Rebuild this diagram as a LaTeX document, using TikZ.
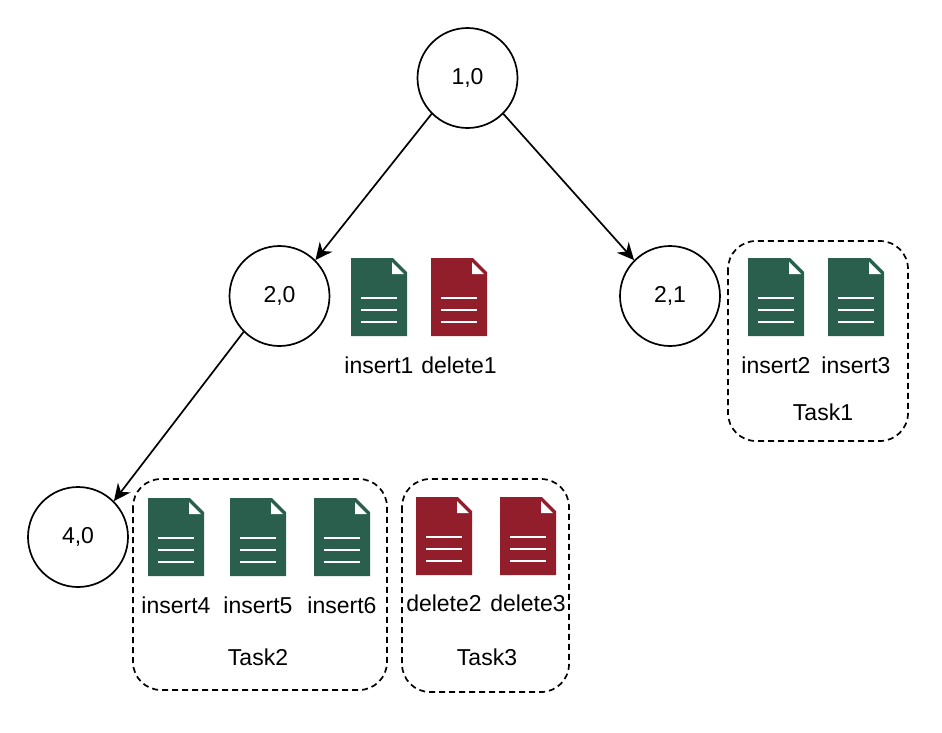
\documentclass[tikz,border=0pt]{standalone}
\usepackage{fontspec}
\setmainfont{Liberation Sans}
\usetikzlibrary{arrows.meta}
\definecolor{insertgreen}{HTML}{2A5F4E}
\definecolor{deletered}{HTML}{921E2B}
\tikzset{
	level/.style={draw, circle, line width=1.7pt, minimum size=100pt, inner sep=0pt, font=\fontsize{23}{27}\selectfont},
	lbl/.style={font=\fontsize{23}{27}\selectfont, inner sep=0pt},
	link/.style={line width=1.7pt, -{Stealth[length=17pt,width=16pt]}},
	taskbox/.style={line width=1.7pt, dash pattern=on 6pt off 4pt, rounded corners=28pt}
}
\def\docicon(#1,#2)#3{
	\fill[#3] (#1,#2) -- ++(42,0) -- ++(14,14) -- ++(0,64) -- ++(-56,0) -- cycle;
	\fill[white] (#1+41,#2+4) -- (#1+53,#2+16) -- (#1+41,#2+16) -- cycle;
	\draw[white, line width=1.1pt] (#1+10,#2+40) -- ++(36,0);
	\draw[white, line width=1.1pt] (#1+10,#2+52) -- ++(36,0);
	\draw[white, line width=1.1pt] (#1+10,#2+64) -- ++(36,0);
}
\begin{document}
\begin{tikzpicture}[x=1pt, y=-1pt]
	\useasboundingbox (0,0) rectangle (942,732);
	
	\node[level] (n10) at (467.5,78) {1,0};
	\node[level] (n20) at (279.5,296) {2,0};
	\node[level] (n21) at (670,296) {2,1};
	\node[level] (n40) at (78,537) {4,0};
	
	\draw[link] (n10.225) -- (n20.45);
	\draw[link] (n10.-45) -- (n21.135);
	\draw[link] (n20.-135) -- (n40.45);
	
	\draw[taskbox] (728,241) rectangle (908,441);
	\draw[taskbox] (133,479) rectangle (387,690);
	\draw[taskbox] (402,479) rectangle (569,692);
	
	\docicon(351,258){insertgreen}
	\docicon(431,258){deletered}
	\docicon(748,258){insertgreen}
	\docicon(828,258){insertgreen}
	\docicon(148,498){insertgreen}
	\docicon(230,498){insertgreen}
	\docicon(314,498){insertgreen}
	\docicon(416,497){deletered}
	\docicon(500,497){deletered}
	
	\node[lbl] (insert1) at (379,365) {insert1};
	\node[lbl] (delete1) at (459,365) {delete1};
	\node[lbl] (insert2) at (776,365) {insert2};
	\node[lbl] (insert3) at (856,365) {insert3};
	\node[lbl] (task1) at (823,412) {Task1};
	\node[lbl] (insert4) at (176,605) {insert4};
	\node[lbl] (insert5) at (258,605) {insert5};
	\node[lbl] (insert6) at (342,605) {insert6};
	\node[lbl] (task2) at (258,657) {Task2};
	\node[lbl] (delete2) at (444,603) {delete2};
	\node[lbl] (delete3) at (528,603) {delete3};
	\node[lbl] (task3) at (487,657) {Task3};
\end{tikzpicture}
\end{document}
